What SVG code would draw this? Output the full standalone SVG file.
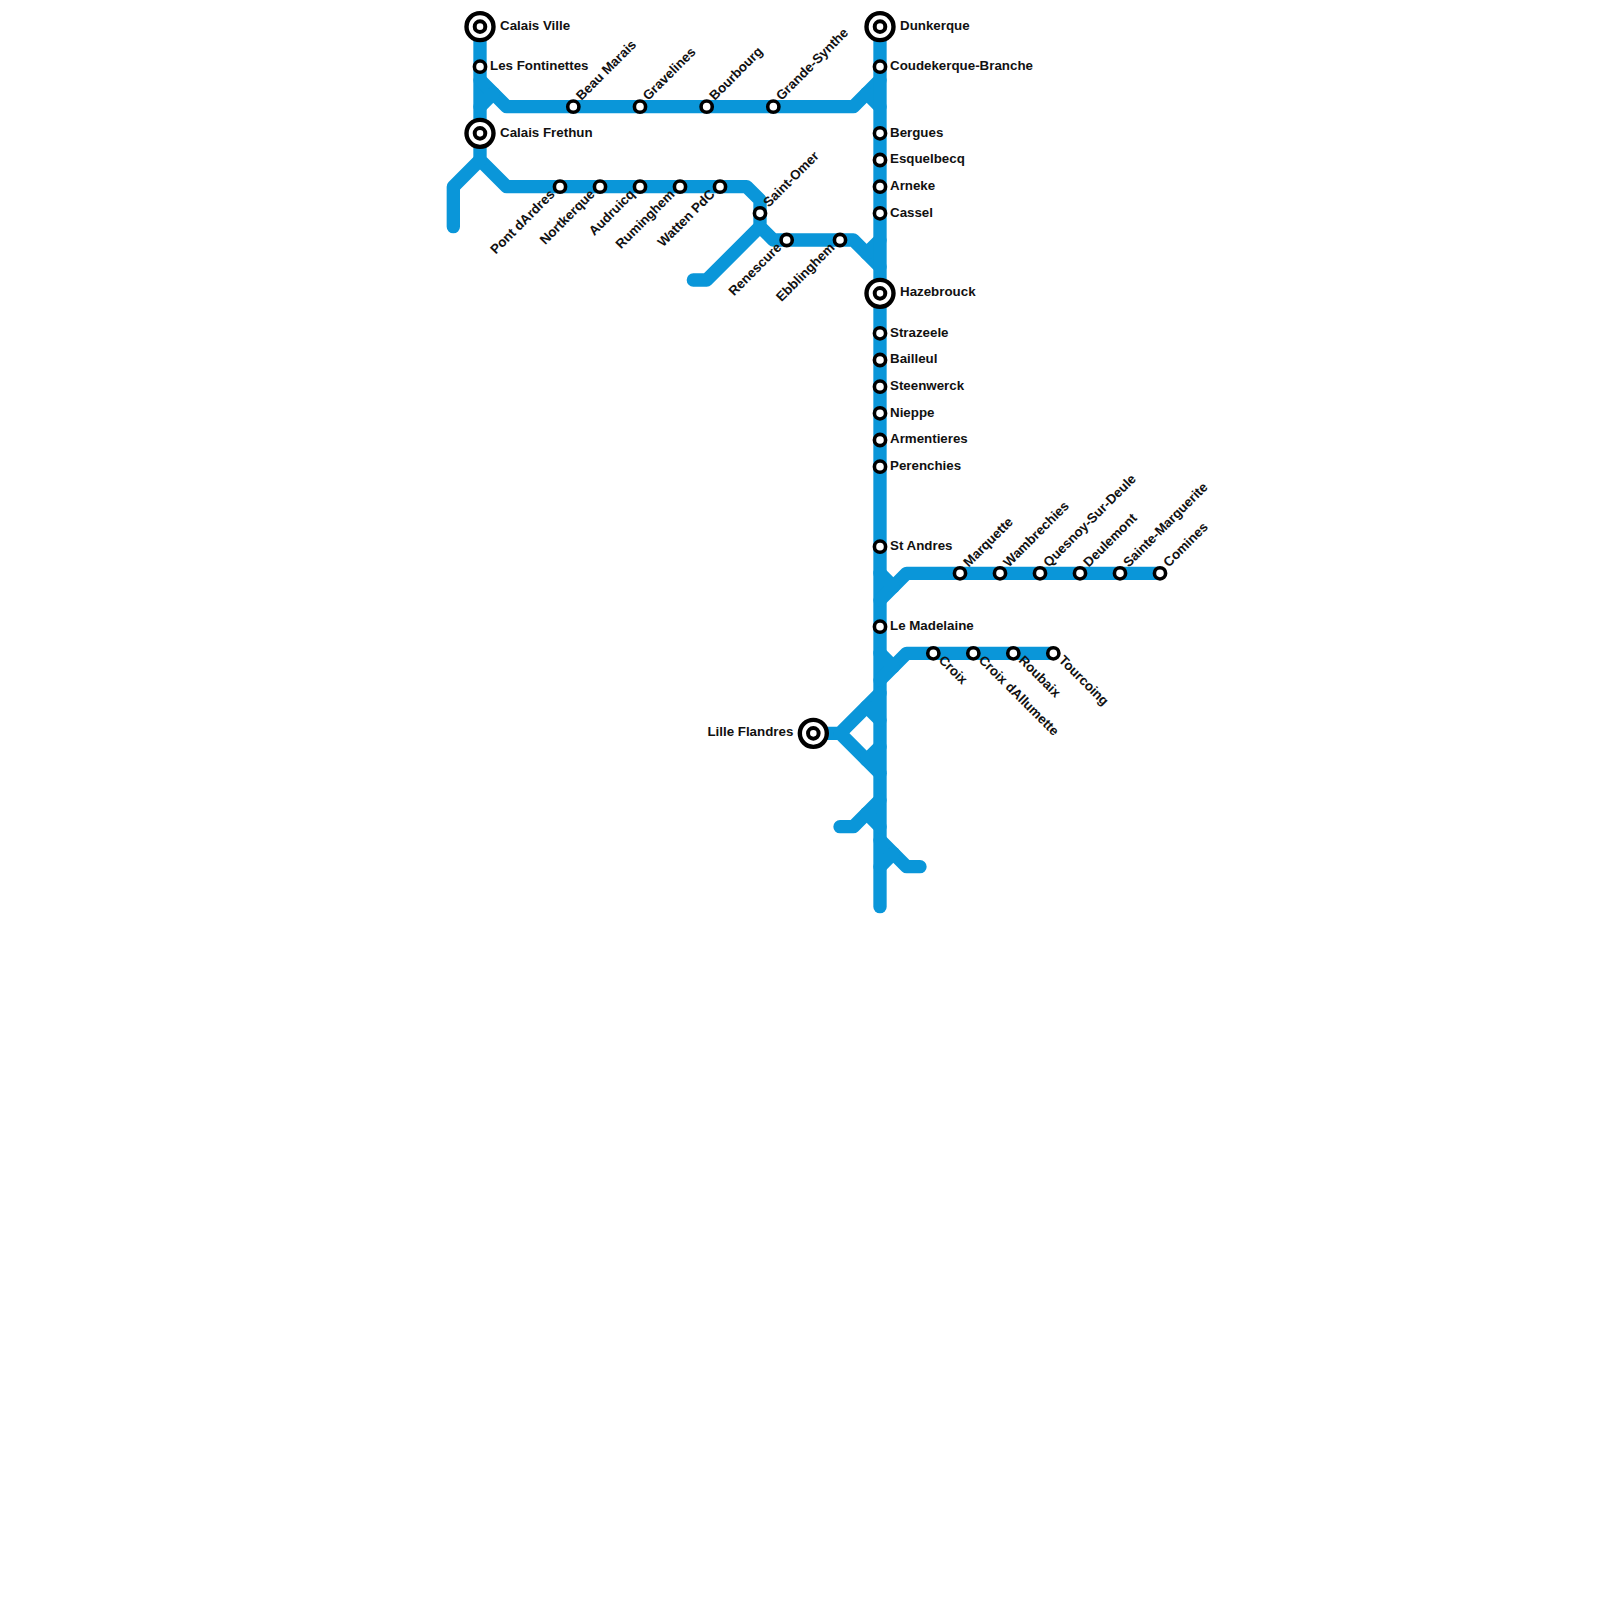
<svg xmlns="http://www.w3.org/2000/svg" width="1600" height="1600" viewBox="0 0 1600 1600">
<style>
.l{fill:none;stroke:#0a96d9;stroke-width:13.33;stroke-linecap:round;stroke-linejoin:round}
.s{fill:#fff;stroke:#000;stroke-width:3.6}
.i{fill:#fff;stroke:#000;stroke-width:4}
.b{fill:#fff;stroke:#000;stroke-width:4.4}
text{font-family:"Liberation Sans",Arial,sans-serif;font-weight:700;font-size:13.33px;fill:#111}
.e{text-anchor:end}
</style>
<rect width="1600" height="1600" fill="#fff"/>
<g id="connectors">
<path class="l" d="M480 26.67V160L506.67 186.67H746.67L760 200V226.67L773.33 240H853.33L880 266.67"/>
<path class="l" d="M480 80L506.67 106.67H853.33L880 80"/>
<path class="l" d="M480 106.67L493.33 93.33"/>
<path class="l" d="M880 106.67L866.67 93.33"/>
<path class="l" d="M480 160L453.33 186.67V226.67"/>
<path class="l" d="M760 226.67L706.67 280H693.33"/>
<path class="l" d="M880 240L866.67 253.33"/>
<path class="l" d="M880 26.67V906.67"/>
<path class="l" d="M880 600L906.67 573.33H1160"/>
<path class="l" d="M880 573.33L893.33 586.67"/>
<path class="l" d="M880 680L906.67 653.33H1053.33"/>
<path class="l" d="M880 653.33L893.33 666.67"/>
<path class="l" d="M880 693.33L840 733.33H813.33"/>
<path class="l" d="M840 733.33L880 773.33"/>
<path class="l" d="M880 720L866.67 706.67"/>
<path class="l" d="M880 746.67L866.67 760"/>
<path class="l" d="M880 800L853.33 826.67H840"/>
<path class="l" d="M880 826.67L866.67 813.33"/>
<path class="l" d="M880 840L906.67 866.67H920"/>
<path class="l" d="M880 866.67L893.33 853.33"/>
</g>
<g id="calais-ville"><circle class="b" cx="480" cy="26.67" r="13.5"/><circle class="i" cx="480" cy="26.67" r="5.3"/><text x="500" y="29.7">Calais Ville</text></g>
<g id="les-fontinettes"><circle class="s" cx="480" cy="66.67" r="5.6"/><text x="490" y="69.7">Les Fontinettes</text></g>
<g id="calais-frethun"><circle class="b" cx="480" cy="133.33" r="13.5"/><circle class="i" cx="480" cy="133.33" r="5.3"/><text x="500" y="136.8">Calais Frethun</text></g>
<g id="beau-marais"><circle class="s" cx="573.33" cy="106.67" r="5.6"/><text transform="translate(581.5 101) rotate(-45)">Beau Marais</text></g>
<g id="gravelines"><circle class="s" cx="640" cy="106.67" r="5.6"/><text transform="translate(648.17 101) rotate(-45)">Gravelines</text></g>
<g id="bourbourg"><circle class="s" cx="706.67" cy="106.67" r="5.6"/><text transform="translate(714.83 101) rotate(-45)">Bourbourg</text></g>
<g id="grande-synthe"><circle class="s" cx="773.33" cy="106.67" r="5.6"/><text transform="translate(781.5 101) rotate(-45)">Grande-Synthe</text></g>
<g id="dunkerque"><circle class="b" cx="880" cy="26.67" r="13.5"/><circle class="i" cx="880" cy="26.67" r="5.3"/><text x="900" y="29.7">Dunkerque</text></g>
<g id="coudekerque"><circle class="s" cx="880" cy="66.67" r="5.6"/><text x="890" y="69.7">Coudekerque-Branche</text></g>
<g id="bergues"><circle class="s" cx="880" cy="133.33" r="5.6"/><text x="890" y="136.8">Bergues</text></g>
<g id="esquelbecq"><circle class="s" cx="880" cy="160" r="5.6"/><text x="890" y="163">Esquelbecq</text></g>
<g id="arneke"><circle class="s" cx="880" cy="186.67" r="5.6"/><text x="890" y="189.7">Arneke</text></g>
<g id="cassel"><circle class="s" cx="880" cy="213.33" r="5.6"/><text x="890" y="216.8">Cassel</text></g>
<g id="pont-dardres"><circle class="s" cx="560" cy="186.67" r="5.6"/><text class="e" transform="translate(555.5 195) rotate(-45)">Pont dArdres</text></g>
<g id="nortkerque"><circle class="s" cx="600" cy="186.67" r="5.6"/><text class="e" transform="translate(595.5 195) rotate(-45)">Nortkerque</text></g>
<g id="audruicq"><circle class="s" cx="640" cy="186.67" r="5.6"/><text class="e" transform="translate(635.5 195) rotate(-45)">Audruicq</text></g>
<g id="ruminghem"><circle class="s" cx="680" cy="186.67" r="5.6"/><text class="e" transform="translate(675.5 195) rotate(-45)">Ruminghem</text></g>
<g id="watten"><circle class="s" cx="720" cy="186.67" r="5.6"/><text class="e" transform="translate(715.5 195) rotate(-45)">Watten PdC</text></g>
<g id="saint-omer"><circle class="s" cx="760" cy="213.33" r="5.6"/><text transform="translate(768.83 207.67) rotate(-45)">Saint-Omer</text></g>
<g id="renescure"><circle class="s" cx="786.67" cy="240" r="5.6"/><text class="e" transform="translate(782.17 248.33) rotate(-45)">Renescure</text></g>
<g id="ebblinghem"><circle class="s" cx="840" cy="240" r="5.6"/><text class="e" transform="translate(835.5 248.33) rotate(-45)">Ebblinghem</text></g>
<g id="hazebrouck"><circle class="b" cx="880" cy="293.33" r="13.5"/><circle class="i" cx="880" cy="293.33" r="5.3"/><text x="900" y="296.3">Hazebrouck</text></g>
<g id="strazeele"><circle class="s" cx="880" cy="333.33" r="5.6"/><text x="890" y="336.8">Strazeele</text></g>
<g id="bailleul"><circle class="s" cx="880" cy="360" r="5.6"/><text x="890" y="363">Bailleul</text></g>
<g id="steenwerck"><circle class="s" cx="880" cy="386.67" r="5.6"/><text x="890" y="389.7">Steenwerck</text></g>
<g id="nieppe"><circle class="s" cx="880" cy="413.33" r="5.6"/><text x="890" y="416.8">Nieppe</text></g>
<g id="armentieres"><circle class="s" cx="880" cy="440" r="5.6"/><text x="890" y="443">Armentieres</text></g>
<g id="perenchies"><circle class="s" cx="880" cy="466.67" r="5.6"/><text x="890" y="469.7">Perenchies</text></g>
<g id="st-andres"><circle class="s" cx="880" cy="546.67" r="5.6"/><text x="890" y="549.7">St Andres</text></g>
<g id="le-madelaine"><circle class="s" cx="880" cy="626.67" r="5.6"/><text x="890" y="629.7">Le Madelaine</text></g>
<g id="marquette"><circle class="s" cx="960" cy="573.33" r="5.6"/><text transform="translate(968.83 567.67) rotate(-45)">Marquette</text></g>
<g id="wambrechies"><circle class="s" cx="1000" cy="573.33" r="5.6"/><text transform="translate(1008.83 567.67) rotate(-45)">Wambrechies</text></g>
<g id="quesnoy"><circle class="s" cx="1040" cy="573.33" r="5.6"/><text transform="translate(1048.83 567.67) rotate(-45)">Quesnoy-Sur-Deule</text></g>
<g id="deulemont"><circle class="s" cx="1080" cy="573.33" r="5.6"/><text transform="translate(1088.83 567.67) rotate(-45)">Deulemont</text></g>
<g id="sainte-marguerite"><circle class="s" cx="1120" cy="573.33" r="5.6"/><text transform="translate(1128.83 567.67) rotate(-45)">Sainte-Marguerite</text></g>
<g id="comines"><circle class="s" cx="1160" cy="573.33" r="5.6"/><text transform="translate(1168.83 567.67) rotate(-45)">Comines</text></g>
<g id="croix"><circle class="s" cx="933.33" cy="653.33" r="5.6"/><text transform="translate(938 661) rotate(45)">Croix</text></g>
<g id="croix-dallumette"><circle class="s" cx="973.33" cy="653.33" r="5.6"/><text transform="translate(978 661) rotate(45)">Croix dAllumette</text></g>
<g id="roubaix"><circle class="s" cx="1013.33" cy="653.33" r="5.6"/><text transform="translate(1018 661) rotate(45)">Roubaix</text></g>
<g id="tourcoing"><circle class="s" cx="1053.33" cy="653.33" r="5.6"/><text transform="translate(1058 661) rotate(45)">Tourcoing</text></g>
<g id="lille-flandres"><circle class="b" cx="813.33" cy="733.33" r="13.5"/><circle class="i" cx="813.33" cy="733.33" r="5.3"/><text class="e" x="793.33" y="736.3">Lille Flandres</text></g>
</svg>
